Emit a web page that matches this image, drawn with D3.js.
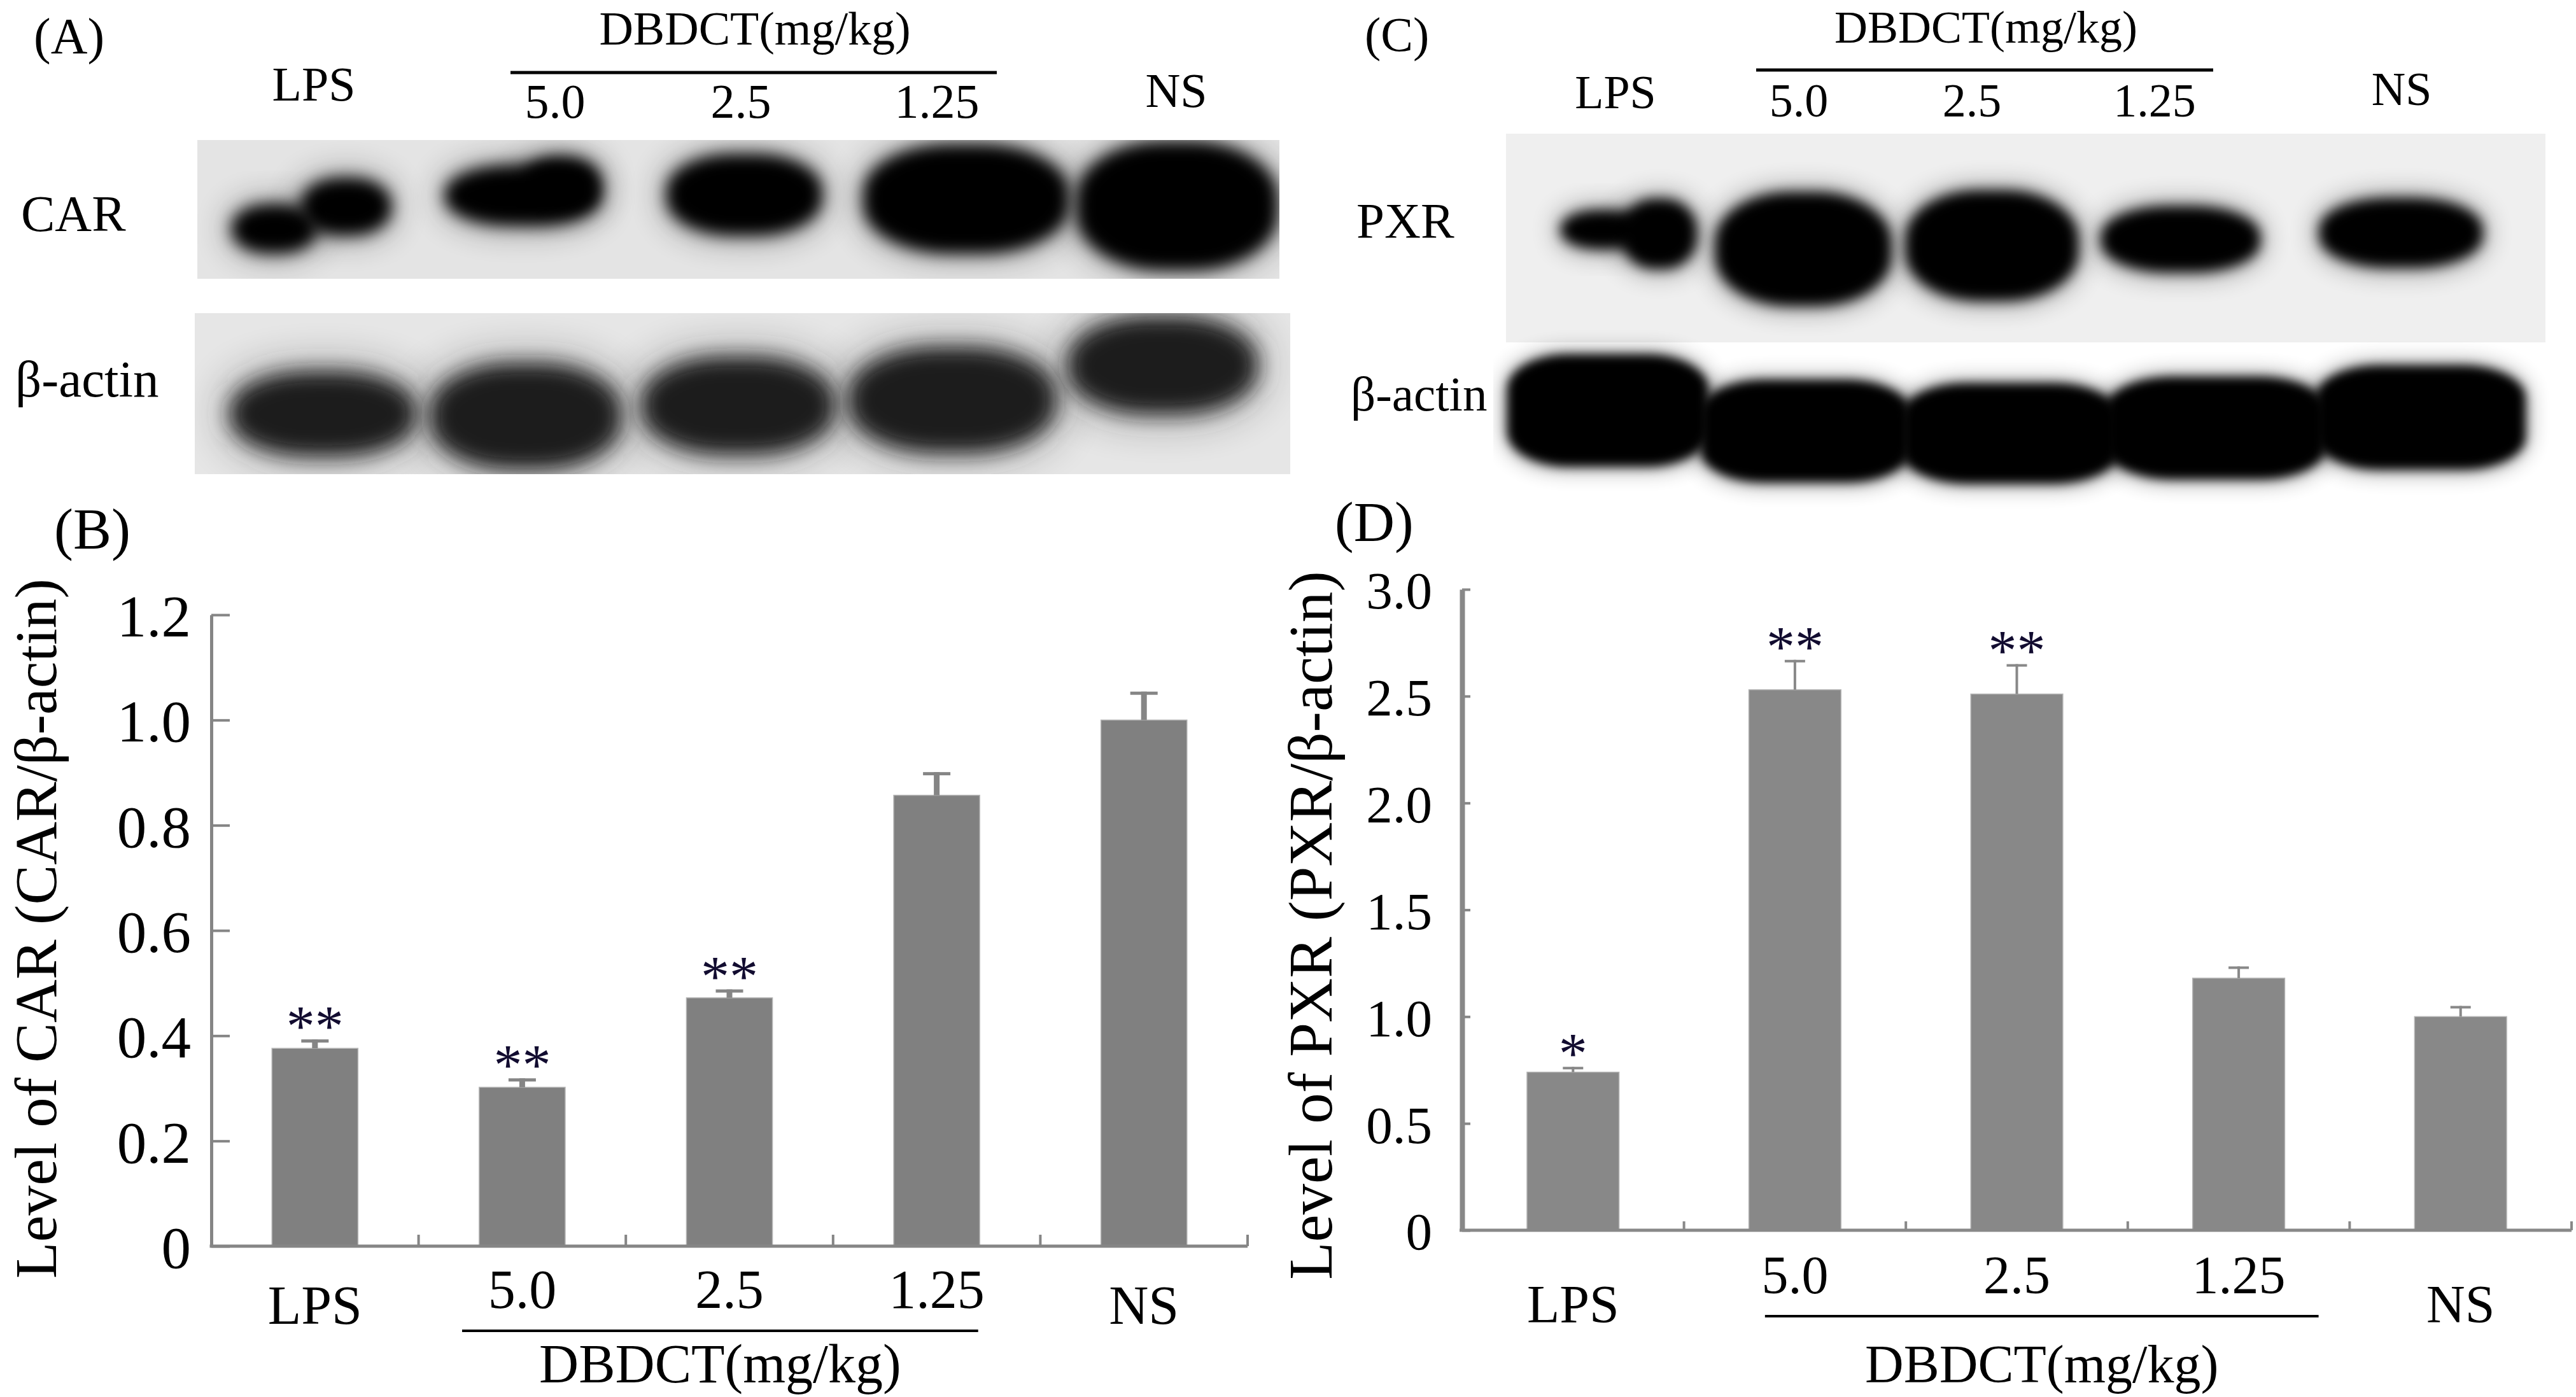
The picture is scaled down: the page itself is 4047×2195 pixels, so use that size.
<!DOCTYPE html>
<html>
<head>
<meta charset="utf-8">
<script src="https://cdn.jsdelivr.net/npm/d3@7"></script>
<style>
  body { margin: 0; background: #fff; }
  svg { display: block; font-family: "Liberation Serif", "Times New Roman", serif; }
</style>
</head>
<body>
<svg id="main" width="4047" height="2195"></svg>
<script>
// ---- data ----
var groups = ['LPS', '5.0', '2.5', '1.25', 'NS'];
var doseTitle = 'DBDCT(mg/kg)';

var carLevel = [0.376, 0.302, 0.472, 0.857, 1.0];
var carErr   = [0.017, 0.017, 0.016, 0.044, 0.054];
var carSig   = ['**', '**', '**', '', ''];
var carTicks = [0, 0.2, 0.4, 0.6, 0.8, 1.0, 1.2];
var carTickLabels = ['0', '0.2', '0.4', '0.6', '0.8', '1.0', '1.2'];

var pxrLevel = [0.74, 2.53, 2.51, 1.18, 1.0];
var pxrErr   = [0.025, 0.14, 0.14, 0.055, 0.05];
var pxrSig   = ['*', '**', '**', '', ''];
var pxrTicks = [0, 0.5, 1, 1.5, 2, 2.5, 3];
var pxrTickLabels = ['0', '0.5', '1.0', '1.5', '2.0', '2.5', '3.0'];

// blot band extents, as fractions of each strip [left, right, top, bottom]
var carBands = [[0.030, 0.112, 0.45, 0.83], [0.094, 0.181, 0.26, 0.70],
                [0.227, 0.374, 0.17, 0.63], [0.300, 0.374, 0.11, 0.50],
                [0.432, 0.579, 0.09, 0.70], [0.614, 0.807, 0.02, 0.83],
                [0.811, 1.000, 0.00, 0.95]];
var actinABands = [[0.030, 0.204, 0.35, 0.90], [0.213, 0.391, 0.30, 0.98],
                   [0.406, 0.586, 0.26, 0.89], [0.595, 0.788, 0.20, 0.88],
                   [0.795, 0.972, 0.01, 0.64]];
var pxrBands = [[0.051, 0.135, 0.36, 0.56], [0.110, 0.185, 0.305, 0.655],
                [0.200, 0.372, 0.274, 0.832], [0.383, 0.552, 0.265, 0.808],
                [0.571, 0.727, 0.341, 0.671], [0.781, 0.941, 0.302, 0.649]];
var actinCBands = [[0.000, 0.196, 0.045, 0.864], [0.186, 0.390, 0.227, 0.977],
                   [0.380, 0.590, 0.25, 0.986], [0.576, 0.790, 0.205, 0.955],
                   [0.778, 0.982, 0.123, 0.886]];

var svg = d3.select('#main');
var defs = svg.append('defs');

function txt(g, s, x, y, size, anchor) {
    return g.append('text').attr('x', x).attr('y', y)
        .attr('font-size', size).attr('text-anchor', anchor || 'start')
        .attr('fill', '#000').text(s);
}

// ---- western blot strips ----
var blurId = 0;
function blot(o) {
    var xs = d3.scaleLinear().domain([0, 1]).range([o.x0, o.x1]);
    var ys = d3.scaleLinear().domain([0, 1]).range([o.y0, o.y1]);
    var id = 'b' + (blurId++);
    [['', o.blur], ['h', o.blur * 2.2]].forEach(function (f) {
        defs.append('filter').attr('id', id + f[0])
            .attr('x', '-60%').attr('y', '-60%').attr('width', '220%').attr('height', '220%')
            .append('feGaussianBlur').attr('stdDeviation', f[1]);
    });
    defs.append('clipPath').attr('id', id + 'c').append('rect')
        .attr('x', o.x0 - (o.bg ? 0 : 20)).attr('y', o.y0 - (o.bg ? 0 : 40))
        .attr('width', o.x1 - o.x0 + (o.bg ? 0 : 40)).attr('height', o.y1 - o.y0 + (o.bg ? 0 : 80));
    var g = svg.append('g');
    if (o.bg) {
        g.append('rect').attr('x', o.x0).attr('y', o.y0)
            .attr('width', o.x1 - o.x0).attr('height', o.y1 - o.y0).attr('fill', o.bg);
    }
    var inner = g.append('g').attr('clip-path', 'url(#' + id + 'c)');
    // soft halo, then the dense core
    [['h', 0.45, 0], ['', 1, o.blur * 0.3]].forEach(function (layer) {
        inner.append('g').selectAll('rect').data(o.bands).join('rect')
            .attr('x', d => xs(d[0]) + layer[2])
            .attr('y', d => ys(d[2]) + layer[2])
            .attr('width', d => xs(d[1]) - xs(d[0]) - 2 * layer[2])
            .attr('height', d => ys(d[3]) - ys(d[2]) - 2 * layer[2])
            .attr('rx', d => (xs(d[1]) - xs(d[0])) * o.round)
            .attr('ry', d => (ys(d[3]) - ys(d[2])) * o.round)
            .attr('fill', o.ink).attr('opacity', layer[1])
            .attr('filter', 'url(#' + id + layer[0] + ')');
    });
}

blot({x0: 310, x1: 2010, y0: 220, y1: 438, bg: '#e4e4e4', ink: '#050505', blur: 12, round: 0.42, bands: carBands});
blot({x0: 306, x1: 2027, y0: 492, y1: 745, bg: '#e6e6e6', ink: '#1e1e1e', blur: 16, round: 0.42, bands: actinABands});
blot({x0: 2366, x1: 3999, y0: 210, y1: 538, bg: '#efefef', ink: '#030303', blur: 10, round: 0.42, bands: pxrBands});
blot({x0: 2366, x1: 3999, y0: 545, y1: 765, bg: null, ink: '#000', blur: 8, round: 0.3, bands: actinCBands});

// blot headings
var head = svg.append('g');
txt(head, '(A)', 53, 84, 80);
txt(head, doseTitle, 1186, 70, 74, 'middle');
head.append('line').attr('x1', 802).attr('x2', 1566).attr('y1', 114).attr('y2', 114)
    .attr('stroke', '#000').attr('stroke-width', 5);
var laneA = [493, 872, 1164, 1472, 1848], baseA = [158, 185, 185, 185, 168];
groups.forEach((s, i) => txt(head, s, laneA[i], baseA[i], 76, 'middle'));
txt(head, 'CAR', 33, 363, 80);
txt(head, 'β-actin', 24, 623, 81);

txt(head, '(C)', 2144, 80, 76);
txt(head, doseTitle, 3120, 67, 72, 'middle');
head.append('line').attr('x1', 2759).attr('x2', 3477).attr('y1', 110).attr('y2', 110)
    .attr('stroke', '#000').attr('stroke-width', 5);
var laneC = [2538, 2826, 3098, 3385, 3773], baseC = [170, 183, 183, 183, 165];
groups.forEach((s, i) => txt(head, s, laneC[i], baseC[i], 74, 'middle'));
txt(head, 'PXR', 2131, 373, 79);
txt(head, 'β-actin', 2122, 645, 77);

// ---- bar panels ----
function barPanel(o) {
    var g = svg.append('g');
    var x = d3.scaleBand().domain(groups).range([o.x0, o.x1])
        .paddingInner(0.585).paddingOuter(0.2925);
    var y = d3.scaleLinear().domain([0, o.max]).range([o.y0, o.y1]);
    var half = x.step() * x.paddingInner() / 2;

    // bars
    g.selectAll('rect.bar').data(o.values).join('rect').attr('class', 'bar')
        .attr('x', (d, i) => x(groups[i]))
        .attr('y', d => y(d))
        .attr('width', x.bandwidth())
        .attr('height', d => o.y0 - y(d))
        .attr('fill', o.fill).attr('stroke', '#b4b4b4').attr('stroke-width', 1.5);

    // upper error bars
    var cx = i => x(groups[i]) + x.bandwidth() / 2;
    g.selectAll('rect.stem').data(o.values).join('rect').attr('class', 'stem')
        .attr('x', (d, i) => cx(i) - o.stemW / 2)
        .attr('y', (d, i) => y(d + o.errs[i]))
        .attr('width', o.stemW)
        .attr('height', (d, i) => y(d) - y(d + o.errs[i]))
        .attr('fill', o.axis);
    g.selectAll('rect.cap').data(o.values).join('rect').attr('class', 'cap')
        .attr('x', (d, i) => cx(i) - o.capW / 2)
        .attr('y', (d, i) => y(d + o.errs[i]))
        .attr('width', o.capW).attr('height', o.capH)
        .attr('fill', o.axis);

    // significance stars
    g.selectAll('text.sig').data(o.values).join('text').attr('class', 'sig')
        .attr('x', (d, i) => cx(i))
        .attr('y', (d, i) => y(d + o.errs[i]) + 10)
        .attr('text-anchor', 'middle').attr('font-size', 90).attr('fill', '#120c30')
        .text((d, i) => o.sig[i]);

    // y axis, ticks pointing inward
    var ay = g.append('g').attr('transform', 'translate(' + o.x0 + ',0)')
        .call(d3.axisLeft(y).tickValues(o.ticks)
            .tickFormat((d, i) => o.tickLabels[i])
            .tickSizeInner(-o.tickLen).tickSizeOuter(0).tickPadding(o.tickPad));
    ay.select('.domain').attr('stroke', o.axis).attr('stroke-width', o.yAxisW);
    ay.selectAll('.tick line').attr('stroke', o.axis).attr('stroke-width', 4);
    ay.selectAll('.tick text').attr('font-size', o.tickFont).attr('fill', '#000')
        .attr('font-family', 'Liberation Serif').attr('dy', '0.36em');

    // x axis with small category separators
    g.append('line').attr('x1', o.x0 - o.yAxisW / 2).attr('x2', o.x1)
        .attr('y1', o.y0).attr('y2', o.y0)
        .attr('stroke', o.axis).attr('stroke-width', 5);
    g.selectAll('line.sep').data(groups).join('line').attr('class', 'sep')
        .attr('x1', d => x(d) + x.bandwidth() + half).attr('x2', d => x(d) + x.bandwidth() + half)
        .attr('y1', o.y0).attr('y2', o.y0 - o.sepLen)
        .attr('stroke', o.axis).attr('stroke-width', 4);

    // category labels
    g.selectAll('text.cat').data(groups).join('text').attr('class', 'cat')
        .attr('x', d => x(d) + x.bandwidth() / 2)
        .attr('y', (d, i) => (i > 0 && i < 4) ? o.doseBase : o.catBase)
        .attr('text-anchor', 'middle').attr('font-size', o.catFont).attr('fill', '#000')
        .text(d => d);
    var lx1 = x('5.0') + x.bandwidth() / 2 + o.lineFrom * x.step();
    var lx2 = x('1.25') + x.bandwidth() / 2 + o.lineTo * x.step();
    g.append('line').attr('x1', lx1).attr('x2', lx2).attr('y1', o.lineY).attr('y2', o.lineY)
        .attr('stroke', '#000').attr('stroke-width', 4);
    txt(g, doseTitle, (lx1 + lx2) / 2, o.titleBase, o.titleFont, 'middle');

    // y label and panel letter
    g.append('text').attr('transform', 'translate(' + o.ylabX + ',' + o.ylabY + ') rotate(-90)')
        .attr('text-anchor', 'middle').attr('font-size', o.ylabFont).attr('fill', '#000')
        .text(o.ylab);
    txt(g, o.letter, o.letterX, o.letterY, o.letterFont);
}

barPanel({
    x0: 332, x1: 1960, y0: 1958, y1: 966, max: 1.2,
    values: carLevel, errs: carErr, sig: carSig,
    ticks: carTicks, tickLabels: carTickLabels,
    fill: '#808080', axis: '#858585', yAxisW: 5,
    tickLen: 29, tickPad: 32, tickFont: 93,
    stemW: 9, capW: 43, capH: 5, sepLen: 18,
    catFont: 86, catBase: 2080, doseBase: 2055,
    lineY: 2091, lineFrom: -0.29, lineTo: 0.2, titleBase: 2172, titleFont: 86,
    ylab: 'Level of CAR (CAR/β-actin)', ylabX: 88, ylabY: 1459, ylabFont: 94,
    letter: '(B)', letterX: 85, letterY: 862, letterFont: 90
});

barPanel({
    x0: 2297, x1: 4040, y0: 1933, y1: 926, max: 3,
    values: pxrLevel, errs: pxrErr, sig: pxrSig,
    ticks: pxrTicks, tickLabels: pxrTickLabels,
    fill: '#888888', axis: '#888888', yAxisW: 8,
    tickLen: 13, tickPad: 47, tickFont: 83,
    stemW: 4, capW: 32, capH: 4, sepLen: 14,
    catFont: 84, catBase: 2078, doseBase: 2032,
    lineY: 2068, lineFrom: -0.135, lineTo: 0.36, titleBase: 2172, titleFont: 84,
    ylab: 'Level of PXR (PXR/β-actin)', ylabX: 2092, ylabY: 1454, ylabFont: 97,
    letter: '(D)', letterX: 2097, letterY: 850, letterFont: 89
});
</script>
</body>
</html>
